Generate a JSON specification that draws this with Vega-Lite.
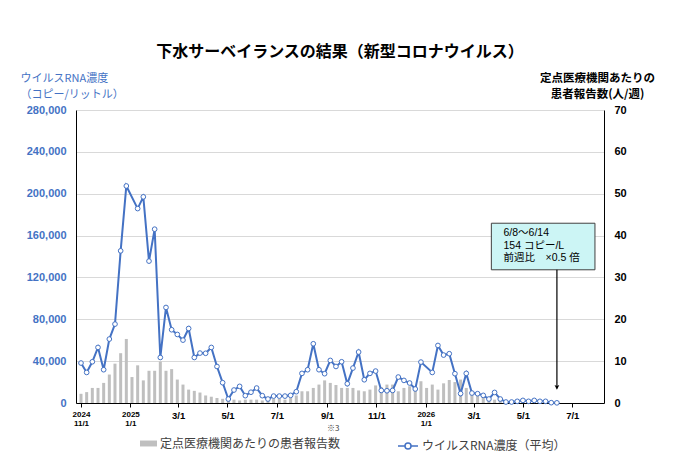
{
"$schema":"https://vega.github.io/schema/vega-lite/v6.json",
"width":528,"height":293,"autosize":"none",
"padding":{"left":76,"top":110,"right":76,"bottom":68},
"background":"white",
"title":{"text":"下水サーベイランスの結果（新型コロナウイルス）","font":"Noto Sans CJK JP","fontSize":16,"fontWeight":"bold","color":"#000","anchor":"middle","frame":"group","offset":12},
"config":{"view":{"stroke":null},"font":"Liberation Sans"},
"datasets":{"weekly":[
{"date":"2024/11/01","rna":38200,"cases":2.2},
{"date":"2024/11/08","rna":29200,"cases":2.6},
{"date":"2024/11/15","rna":39400,"cases":3.6},
{"date":"2024/11/22","rna":53100,"cases":3.6},
{"date":"2024/11/29","rna":31800,"cases":4.8},
{"date":"2024/12/06","rna":61100,"cases":6.8},
{"date":"2024/12/13","rna":75400,"cases":9.4},
{"date":"2024/12/20","rna":145400,"cases":11.9},
{"date":"2024/12/27","rna":207400,"cases":15.3},
{"date":"2025/01/03","rna":null,"cases":6.2},
{"date":"2025/01/10","rna":185800,"cases":9.0},
{"date":"2025/01/17","rna":197000,"cases":5.4},
{"date":"2025/01/24","rna":135600,"cases":7.7},
{"date":"2025/01/31","rna":166100,"cases":7.7},
{"date":"2025/02/07","rna":43500,"cases":9.9},
{"date":"2025/02/14","rna":91300,"cases":7.7},
{"date":"2025/02/21","rna":70000,"cases":8.1},
{"date":"2025/02/28","rna":65500,"cases":5.6},
{"date":"2025/03/07","rna":60100,"cases":4.4},
{"date":"2025/03/14","rna":71200,"cases":3.2},
{"date":"2025/03/21","rna":43500,"cases":2.9},
{"date":"2025/03/28","rna":47700,"cases":2.5},
{"date":"2025/04/04","rna":47500,"cases":1.8},
{"date":"2025/04/11","rna":53100,"cases":1.5},
{"date":"2025/04/18","rna":34900,"cases":1.2},
{"date":"2025/04/25","rna":19400,"cases":1.0},
{"date":"2025/05/02","rna":3800,"cases":0.8},
{"date":"2025/05/09","rna":12400,"cases":0.8},
{"date":"2025/05/16","rna":15900,"cases":0.6},
{"date":"2025/05/23","rna":7000,"cases":0.8},
{"date":"2025/05/30","rna":10300,"cases":0.8},
{"date":"2025/06/06","rna":14300,"cases":0.8},
{"date":"2025/06/13","rna":7000,"cases":0.6},
{"date":"2025/06/20","rna":3800,"cases":0.8},
{"date":"2025/06/27","rna":6600,"cases":1.0},
{"date":"2025/07/04","rna":6600,"cases":1.0},
{"date":"2025/07/11","rna":6600,"cases":0.8},
{"date":"2025/07/18","rna":7300,"cases":1.2},
{"date":"2025/07/25","rna":10800,"cases":1.8},
{"date":"2025/08/01","rna":28300,"cases":2.8},
{"date":"2025/08/08","rna":31800,"cases":2.8},
{"date":"2025/08/15","rna":56600,"cases":3.6},
{"date":"2025/08/22","rna":31800,"cases":4.4},
{"date":"2025/08/29","rna":28000,"cases":5.4},
{"date":"2025/09/05","rna":40700,"cases":4.8},
{"date":"2025/09/12","rna":34900,"cases":4.3},
{"date":"2025/09/19","rna":39400,"cases":3.6},
{"date":"2025/09/26","rna":18400,"cases":3.6},
{"date":"2025/10/03","rna":33400,"cases":3.6},
{"date":"2025/10/10","rna":48700,"cases":3.0},
{"date":"2025/10/17","rna":22200,"cases":2.8},
{"date":"2025/10/24","rna":28300,"cases":3.2},
{"date":"2025/10/31","rna":30500,"cases":4.2},
{"date":"2025/11/07","rna":12000,"cases":3.8},
{"date":"2025/11/14","rna":11700,"cases":4.4},
{"date":"2025/11/21","rna":12000,"cases":4.4},
{"date":"2025/11/28","rna":24800,"cases":2.8},
{"date":"2025/12/05","rna":21600,"cases":3.6},
{"date":"2025/12/12","rna":19100,"cases":4.0},
{"date":"2025/12/19","rna":13400,"cases":3.4},
{"date":"2025/12/26","rna":39100,"cases":5.2},
{"date":"2026/01/02","rna":null,"cases":3.6},
{"date":"2026/01/09","rna":29200,"cases":4.4},
{"date":"2026/01/16","rna":55000,"cases":3.2},
{"date":"2026/01/23","rna":45800,"cases":4.7},
{"date":"2026/01/30","rna":47100,"cases":5.5},
{"date":"2026/02/06","rna":28000,"cases":5.0},
{"date":"2026/02/13","rna":9000,"cases":5.6},
{"date":"2026/02/20","rna":28300,"cases":3.6},
{"date":"2026/02/27","rna":9500,"cases":2.8},
{"date":"2026/03/06","rna":8900,"cases":2.0},
{"date":"2026/03/13","rna":7300,"cases":1.6},
{"date":"2026/03/20","rna":3800,"cases":1.2},
{"date":"2026/03/27","rna":10100,"cases":0.8},
{"date":"2026/04/03","rna":3800,"cases":0.6},
{"date":"2026/04/10","rna":950,"cases":0.4},
{"date":"2026/04/17","rna":950,"cases":0.3},
{"date":"2026/04/24","rna":1600,"cases":0.3},
{"date":"2026/05/01","rna":2500,"cases":0.3},
{"date":"2026/05/08","rna":1600,"cases":0.2},
{"date":"2026/05/15","rna":2500,"cases":0.2},
{"date":"2026/05/22","rna":1600,"cases":0.2},
{"date":"2026/05/29","rna":1600,"cases":0.2},
{"date":"2026/06/05","rna":308,"cases":0.2},
{"date":"2026/06/12","rna":154,"cases":0.2}
]},
"data":{"name":"weekly"},
"encoding":{"x":{"field":"date","type":"temporal",
  "scale":{"domain":[{"year":2024,"month":11,"date":1},{"year":2026,"month":8,"date":3}]},
  "axis":{"title":null,"tickCount":{"interval":"month","step":2},
    "labelExpr":"month(datum.value)==10 && year(datum.value)==2024 ? ['2024','11/1'] : month(datum.value)==0 ? [''+year(datum.value),'1/1'] : (month(datum.value)+1)+'/1'",
    "labelFont":"Liberation Sans","labelFontWeight":"bold",
    "labelFontSize":{"condition":{"test":"month(datum.value)==0 || (month(datum.value)==10 && year(datum.value)==2024)","value":8},"value":9.5},
    "labelColor":"#000","labelBaseline":"top","labelLineHeight":9.5,"labelPadding":3,
    "tickSize":4,"tickColor":"#000","domainColor":"#000","grid":false,"labelOverlap":false,"labelFlush":false}}},
"layer":[
 {"mark":{"type":"bar","size":3},
  "encoding":{
   "y":{"field":"cases","type":"quantitative","scale":{"domain":[0,70]},
     "axis":{"orient":"right","values":[0,10,20,30,40,50,60,70],
       "title":["定点医療機関あたりの","患者報告数(人/週)"],"titleFont":"Noto Sans CJK JP","titleFontSize":11.5,"titleFontWeight":"bold","titleColor":"#000",
       "titleAngle":0,"titleAlign":"center","titleBaseline":"alphabetic","titleX":-7,"titleY":-29,"titleLineHeight":16,
       "labelFont":"Liberation Sans","labelFontWeight":"bold","labelFontSize":11,"labelColor":"#000","labelPadding":10,
       "ticks":false,"grid":false,"domainColor":"#000"}},
   "color":{"datum":"定点医療機関あたりの患者報告数","type":"nominal","scale":{"range":["#BFBFBF"]},
     "legend":{"title":null,"orient":"none","legendX":64,"legendY":325,"symbolType":"M-1,-0.35H1V0.35H-1Z","symbolSize":289,"symbolStrokeWidth":0,
       "labelFont":"Noto Sans CJK JP","labelFontSize":12,"labelColor":"#404040","labelOffset":3,"labelLimit":0}}}},
 {"layer":[
  {"transform":[{"filter":"isValid(datum.rna)"}],
   "mark":{"type":"line","strokeWidth":2},
   "encoding":{
    "y":{"field":"rna","type":"quantitative","scale":{"domain":[0,280000]},
      "axis":{"values":[0,40000,80000,120000,160000,200000,240000,280000],"format":",.0f",
       "title":["ウイルスRNA濃度","（コピー/リットル）"],"titleFont":"Noto Sans CJK JP","titleFontSize":11,"titleFontWeight":"normal","titleColor":"#4472C4",
       "titleAngle":0,"titleAlign":"left","titleBaseline":"alphabetic","titleX":-56,"titleY":-29,"titleLineHeight":16,
       "labelFont":"Liberation Sans","labelFontWeight":"bold","labelFontSize":11,"labelColor":"#4472C4","labelPadding":10,
       "ticks":false,"grid":true,"gridColor":"#D9D9D9","domainColor":"#000"}},
    "stroke":{"datum":"ウイルスRNA濃度（平均）","type":"nominal","scale":{"range":["#4472C4"]},
     "legend":{"title":null,"orient":"none","legendX":321,"legendY":325,
       "symbolType":"M-1,0L-0.3,0M0.3,0L1,0M0.3,0A0.3,0.3,0,1,1,-0.3,0A0.3,0.3,0,1,1,0.3,0Z","symbolSize":400,"symbolStrokeWidth":1.5,"symbolFillColor":"white",
       "labelFont":"Noto Sans CJK JP","labelFontSize":12,"labelColor":"#404040","labelOffset":3,"labelLimit":0}}}},
  {"transform":[{"filter":"isValid(datum.rna)"}],
   "mark":{"type":"point","filled":true,"fill":"white","stroke":"#4472C4","strokeWidth":1,"size":22,"opacity":1},
   "encoding":{"y":{"field":"rna","type":"quantitative"}}},
  {"transform":[{"filter":"datum.rna==154"}],
   "mark":{"type":"rect","fill":"#CCF5F5","stroke":"#404040","strokeWidth":1},
   "encoding":{"x":{"datum":{"year":2026,"month":3,"date":23},"type":"temporal"},"x2":{"datum":{"year":2026,"month":7,"date":29}},
     "y":{"datum":171800,"type":"quantitative"},"y2":{"datum":127300}}},
  {"transform":[{"filter":"datum.rna==154"}],
   "mark":{"type":"text","text":"6/8～6/14","align":"left","baseline":"middle","fontSize":10.5,"font":"Liberation Sans, Noto Sans CJK JP","color":"#000"},
   "encoding":{"x":{"datum":{"year":2026,"month":4,"date":7},"type":"temporal"},"y":{"datum":162300,"type":"quantitative"}}},
  {"transform":[{"filter":"datum.rna==154"}],
   "mark":{"type":"text","text":"154 コピー/L","align":"left","baseline":"middle","fontSize":10.5,"font":"Liberation Sans, Noto Sans CJK JP","color":"#000"},
   "encoding":{"x":{"datum":{"year":2026,"month":4,"date":7},"type":"temporal"},"y":{"datum":150400,"type":"quantitative"}}},
  {"transform":[{"filter":"datum.rna==154"}],
   "mark":{"type":"text","text":"前週比　×0.5 倍","align":"left","baseline":"middle","fontSize":10.5,"font":"Liberation Sans, Noto Sans CJK JP","color":"#000"},
   "encoding":{"x":{"datum":{"year":2026,"month":4,"date":7},"type":"temporal"},"y":{"datum":138500,"type":"quantitative"}}},
  {"transform":[{"filter":"datum.rna==154"}],
   "mark":{"type":"rule","color":"#000","strokeWidth":1.2},
   "encoding":{"y":{"datum":127300,"type":"quantitative"},"y2":{"datum":14000}}},
  {"transform":[{"filter":"datum.rna==154"}],
   "mark":{"type":"point","shape":"M-0.8,-1.6L0,0L0.8,-1.6L0,-1.2Z","filled":true,"color":"#000","size":36,"opacity":1},
   "encoding":{"y":{"datum":12700,"type":"quantitative"}}},
  {"transform":[{"filter":"datum.rna==154"}],
   "mark":{"type":"text","text":"※3","align":"left","baseline":"bottom","fontSize":8,"font":"Noto Sans CJK JP","color":"#404040"},
   "encoding":{"x":{"datum":{"year":2025,"month":9,"date":1},"type":"temporal"},"y":{"datum":-28300,"type":"quantitative"}}}
 ]}
],
"resolve":{"scale":{"y":"independent"}}
}
